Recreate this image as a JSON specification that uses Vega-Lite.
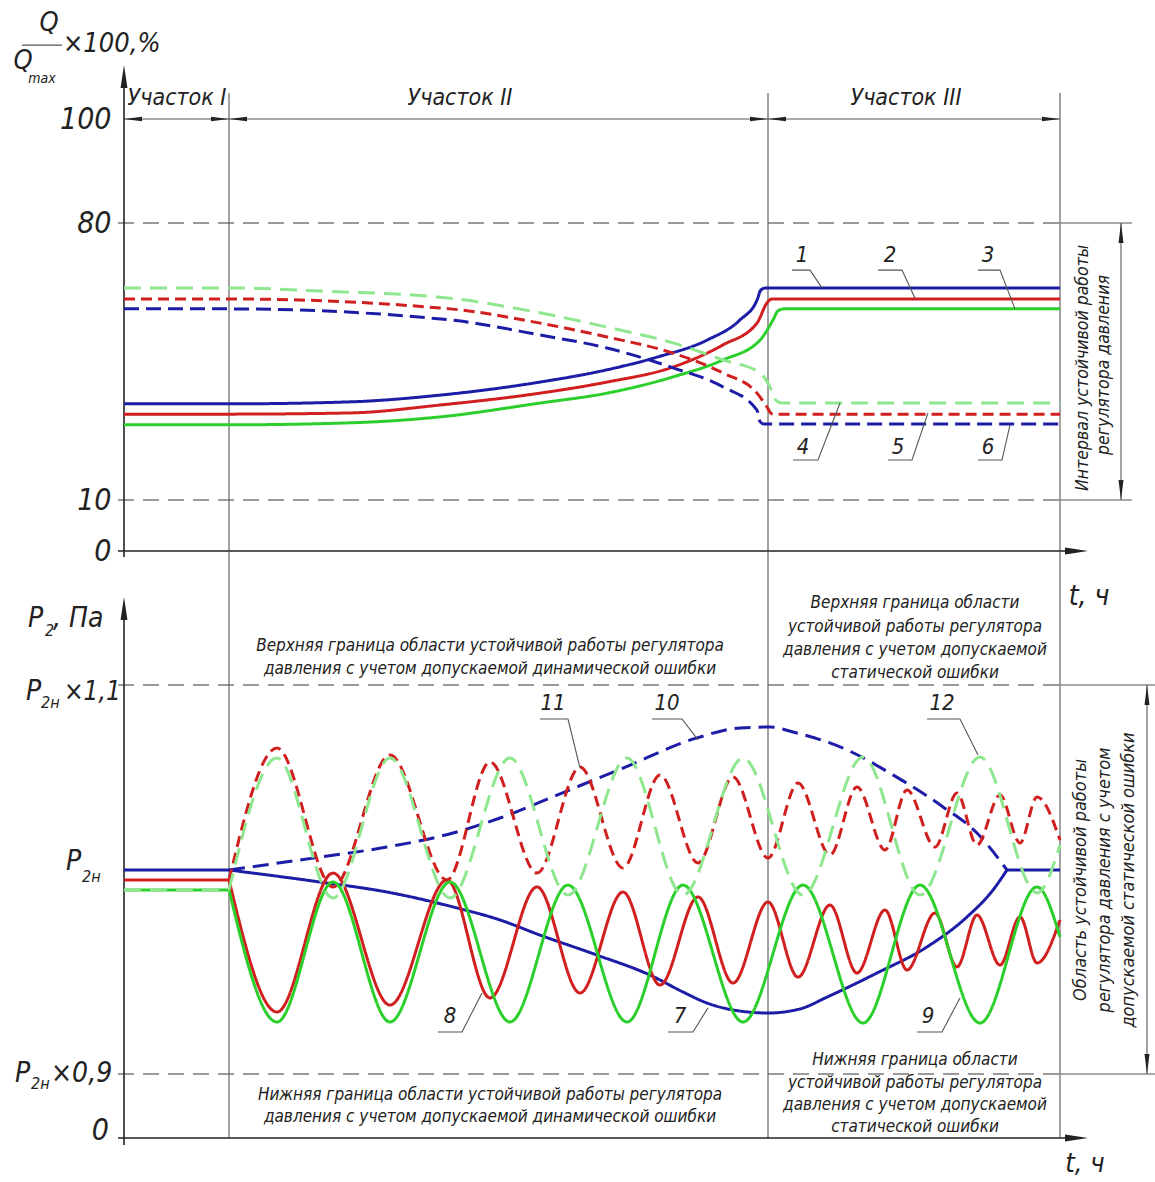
{
"$schema":"https://vega.github.io/schema/vega-lite/v6.json",
"width":1031,"height":1182,
"autosize":{"type":"none"},
"padding":{"left":124,"top":0,"right":0,"bottom":0},
"background":"white",
"config":{"view":{"stroke":null},"text":{"font":"Liberation Sans Narrow, DejaVu Sans Condensed, Liberation Sans, sans-serif","fontStyle":"italic","color":"#222"}},
"resolve":{"scale":{"y":"independent","color":"independent","strokeDash":"independent"}},
"layer":[
{"layer":[
 {"data":{"values":[{"t":-0.6,"t2":93.6,"q":80,"q2":80},{"t":-0.6,"t2":93.6,"q":10,"q2":10}]},
  "mark":{"type":"rule","color":"#7a7a7a","strokeWidth":1.3,"strokeDash":[16,9]},
  "encoding":{"x":{"field":"t","type":"quantitative","scale":{"domain":[0,100],"range":[0,1000],"nice":false,"zero":false},"axis":null},"x2":{"field":"t2"},
   "y":{"field":"q","type":"quantitative","scale":{"domain":[0,10,80,100],"range":[551,500,223,119],"nice":false,"zero":false},"axis":{"values":[0,10,80,100],"domain":false,"ticks":false,"grid":false,"title":null,"labelFontSize":30,"labelFontStyle":"italic","labelColor":"#222","labelPadding":13,"labelFont":"Liberation Sans Narrow, DejaVu Sans Condensed, Liberation Sans, sans-serif"}},"y2":{"field":"q2"}}},
 {"data":{"values":[{"t":93.6,"t2":100.8,"q":80,"q2":80},{"t":93.6,"t2":100.8,"q":10,"q2":10},{"t":99.7,"t2":99.7,"q":10,"q2":80},{"t":0,"t2":93.6,"q":100,"q2":100},{"t":10.5,"t2":10.5,"q":0,"q2":105},{"t":64.4,"t2":64.4,"q":0,"q2":105},{"t":93.6,"t2":93.6,"q":0,"q2":105},{"t":-10.2,"t2":-6.2,"q":114.2,"q2":114.2}]},
  "mark":{"type":"rule","color":"#555","strokeWidth":1.1},
  "encoding":{"x":{"field":"t","type":"quantitative","axis":null},"x2":{"field":"t2"},"y":{"field":"q","type":"quantitative"},"y2":{"field":"q2"}}},
 {"data":{"values":[{"t":0,"t2":0,"q":-1.2,"q2":108},{"t":-0.6,"t2":95,"q":0,"q2":0}]},
  "mark":{"type":"rule","color":"#222","strokeWidth":1.6},
  "encoding":{"x":{"field":"t","type":"quantitative","axis":null},"x2":{"field":"t2"},"y":{"field":"q","type":"quantitative"},"y2":{"field":"q2"}}},
 {"data":{"values":[
  {"s":"1","t":0,"q":34.3},{"s":"1","t":10.5,"q":34.3},{"s":"1","t":22.6,"q":34.8},{"s":"1","t":31.6,"q":36.5},{"s":"1","t":41.6,"q":39.8},{"s":"1","t":48.3,"q":42.9},{"s":"1","t":53.3,"q":46.1},{"s":"1","t":58.3,"q":50.4},{"s":"1","t":61.6,"q":55.5},{"s":"1","t":63.3,"q":60.5},{"s":"1","t":63.7,"q":63.1},{"s":"1","t":64.2,"q":63.6},{"s":"1","t":93.6,"q":63.6},
  {"s":"2","t":0,"q":31.7},{"s":"2","t":10.5,"q":31.7},{"s":"2","t":22.6,"q":32.0},{"s":"2","t":31.6,"q":34.0},{"s":"2","t":41.6,"q":37.0},{"s":"2","t":48.3,"q":39.8},{"s":"2","t":54.9,"q":43.6},{"s":"2","t":59.9,"q":49.2},{"s":"2","t":63.3,"q":54.7},{"s":"2","t":64.3,"q":59.8},{"s":"2","t":64.8,"q":60.8},{"s":"2","t":93.6,"q":60.8},
  {"s":"3","t":0,"q":29.0},{"s":"3","t":10.5,"q":29.0},{"s":"3","t":22.6,"q":29.5},{"s":"3","t":31.6,"q":31.0},{"s":"3","t":41.6,"q":34.5},{"s":"3","t":48.3,"q":37.0},{"s":"3","t":54.9,"q":41.1},{"s":"3","t":59.9,"q":45.4},{"s":"3","t":63.6,"q":50.4},{"s":"3","t":64.9,"q":55.5},{"s":"3","t":65.4,"q":57.8},{"s":"3","t":66.0,"q":58.3},{"s":"3","t":93.6,"q":58.3},
  {"s":"4","t":0,"q":63.6},{"s":"4","t":10.5,"q":63.6},{"s":"4","t":19.6,"q":62.8},{"s":"4","t":32.6,"q":61.0},{"s":"4","t":41.6,"q":57.3},{"s":"4","t":48.3,"q":53.7},{"s":"4","t":54.9,"q":49.7},{"s":"4","t":59.9,"q":45.4},{"s":"4","t":63.6,"q":42.1},{"s":"4","t":64.6,"q":38.6},{"s":"4","t":65.2,"q":35.2},{"s":"4","t":65.8,"q":34.5},{"s":"4","t":93.6,"q":34.5},
  {"s":"5","t":0,"q":60.8},{"s":"5","t":10.5,"q":60.8},{"s":"5","t":32.6,"q":58.3},{"s":"5","t":41.6,"q":54.7},{"s":"5","t":48.3,"q":51.2},{"s":"5","t":54.9,"q":47.1},{"s":"5","t":59.9,"q":42.1},{"s":"5","t":63.3,"q":37.0},{"s":"5","t":64.3,"q":33.5},{"s":"5","t":64.7,"q":31.9},{"s":"5","t":65.0,"q":31.7},{"s":"5","t":93.6,"q":31.7},
  {"s":"6","t":0,"q":58.3},{"s":"6","t":10.5,"q":58.3},{"s":"6","t":32.6,"q":55.5},{"s":"6","t":41.6,"q":51.7},{"s":"6","t":48.3,"q":48.4},{"s":"6","t":54.9,"q":43.4},{"s":"6","t":59.9,"q":38.6},{"s":"6","t":63.3,"q":32.7},{"s":"6","t":63.6,"q":29.8},{"s":"6","t":64.0,"q":29.2},{"s":"6","t":93.6,"q":29.2}
 ]},
  "mark":{"type":"line","interpolate":"monotone","strokeWidth":3},
  "encoding":{"x":{"field":"t","type":"quantitative","axis":null},"y":{"field":"q","type":"quantitative"},
   "color":{"field":"s","type":"nominal","scale":{"domain":["1","2","3","4","5","6"],"range":["#1c1ca6","#d11f1f","#2bcf2b","#8ee68e","#d11f1f","#1c1ca6"]},"legend":null},
   "strokeDash":{"field":"s","type":"nominal","scale":{"domain":["1","2","3","4","5","6"],"range":[[1,0],[1,0],[1,0],[17,9],[11,6],[15,7]]},"legend":null}}},
 {"data":{"values":[
  {"id":"1","t":66.8,"q":68.1},{"id":"1","t":68.6,"q":68.1},{"id":"1","t":69.8,"q":63.6},
  {"id":"2","t":75.4,"q":68.1},{"id":"2","t":77.8,"q":68.1},{"id":"2","t":79.1,"q":61.0},
  {"id":"3","t":85.4,"q":68.1},{"id":"3","t":87.6,"q":68.1},{"id":"3","t":89.1,"q":58.3},
  {"id":"4","t":66.9,"q":20.1},{"id":"4","t":69.4,"q":20.1},{"id":"4","t":71.6,"q":34.5},
  {"id":"5","t":76.4,"q":20.1},{"id":"5","t":78.8,"q":20.1},{"id":"5","t":80.4,"q":32.0},
  {"id":"6","t":85.4,"q":20.1},{"id":"6","t":87.8,"q":20.1},{"id":"6","t":88.6,"q":29.0}
 ]},
  "mark":{"type":"line","color":"#555","strokeWidth":1.1},
  "encoding":{"x":{"field":"t","type":"quantitative","axis":null},"y":{"field":"q","type":"quantitative"},"detail":{"field":"id"}}},
 {"data":{"values":[{"t":0,"q":100},{"t":10.5,"q":100},{"t":64.4,"q":100}]},
  "mark":{"type":"point","shape":"M0,0L2,-0.25L2,0.25Z","size":324,"filled":true,"color":"#222","opacity":1,"strokeWidth":0},
  "encoding":{"x":{"field":"t","type":"quantitative","axis":null},"y":{"field":"q","type":"quantitative"}}},
 {"data":{"values":[{"t":10.5,"q":100},{"t":64.4,"q":100},{"t":93.6,"q":100}]},
  "mark":{"type":"point","shape":"M0,0L-2,-0.25L-2,0.25Z","size":324,"filled":true,"color":"#222","opacity":1,"strokeWidth":0},
  "encoding":{"x":{"field":"t","type":"quantitative","axis":null},"y":{"field":"q","type":"quantitative"}}},
 {"data":{"values":[{"t":99.7,"q":80}]},
  "mark":{"type":"point","shape":"M0,0L-0.25,2L0.25,2Z","size":400,"filled":true,"color":"#222","opacity":1,"strokeWidth":0},
  "encoding":{"x":{"field":"t","type":"quantitative","axis":null},"y":{"field":"q","type":"quantitative"}}},
 {"data":{"values":[{"t":99.7,"q":10}]},
  "mark":{"type":"point","shape":"M0,0L-0.25,-2L0.25,-2Z","size":400,"filled":true,"color":"#222","opacity":1,"strokeWidth":0},
  "encoding":{"x":{"field":"t","type":"quantitative","axis":null},"y":{"field":"q","type":"quantitative"}}},
 {"data":{"values":[{"t":0,"q":110.4}]},
  "mark":{"type":"point","shape":"M0,0L-0.3,2L0.3,2Z","size":529,"filled":true,"color":"#222","opacity":1,"strokeWidth":0},
  "encoding":{"x":{"field":"t","type":"quantitative","axis":null},"y":{"field":"q","type":"quantitative"}}},
 {"data":{"values":[{"t":96.4,"q":0}]},
  "mark":{"type":"point","shape":"M0,0L-2,-0.3L-2,0.3Z","size":529,"filled":true,"color":"#222","opacity":1,"strokeWidth":0},
  "encoding":{"x":{"field":"t","type":"quantitative","axis":null},"y":{"field":"q","type":"quantitative"}}},
 {"data":{"values":[{"label":"Участок I","t":5.3,"q":104},{"label":"Участок II","t":33.6,"q":104},{"label":"Участок III","t":78.2,"q":104}]},
  "mark":{"type":"text","fontSize":23,"align":"center","baseline":"middle"},
  "encoding":{"x":{"field":"t","type":"quantitative","axis":null},"y":{"field":"q","type":"quantitative"},"text":{"field":"label"}}},
 {"data":{"values":[{"label":"1","t":67.8,"q":71.9},{"label":"2","t":76.6,"q":71.9},{"label":"3","t":86.4,"q":71.9},{"label":"4","t":67.9,"q":23.4},{"label":"5","t":77.4,"q":23.4},{"label":"6","t":86.4,"q":23.4}]},
  "mark":{"type":"text","fontSize":22,"align":"center","baseline":"middle"},
  "encoding":{"x":{"field":"t","type":"quantitative","axis":null},"y":{"field":"q","type":"quantitative"},"text":{"field":"label"}}},
 {"data":{"values":[{"label":"Q","t":-7.5,"q":118.5},{"label":"Q","t":-10.1,"q":111.2}]},
  "mark":{"type":"text","fontSize":27,"align":"center","baseline":"middle"},
  "encoding":{"x":{"field":"t","type":"quantitative","axis":null},"y":{"field":"q","type":"quantitative"},"text":{"field":"label"}}},
 {"data":{"values":[{"label":"max","t":-8.2,"q":107.7}]},
  "mark":{"type":"text","fontSize":14,"align":"center","baseline":"middle"},
  "encoding":{"x":{"field":"t","type":"quantitative","axis":null},"y":{"field":"q","type":"quantitative"},"text":{"field":"label"}}},
 {"data":{"values":[{"label":"×100,%","t":-6.1,"q":114.4}]},
  "mark":{"type":"text","fontSize":27,"align":"left","baseline":"middle"},
  "encoding":{"x":{"field":"t","type":"quantitative","axis":null},"y":{"field":"q","type":"quantitative"},"text":{"field":"label"}}},
 {"data":{"values":[{"label":"t, ч","t":96.5,"q":-9.0}]},
  "mark":{"type":"text","fontSize":28,"align":"center","baseline":"middle"},
  "encoding":{"x":{"field":"t","type":"quantitative","axis":null},"y":{"field":"q","type":"quantitative"},"text":{"field":"label"}}},
 {"data":{"values":[{"label":"Интервал устойчивой работы","t":95.9,"q":43.4},{"label":"регулятора давления","t":98.0,"q":44.1}]},
  "mark":{"type":"text","fontSize":17.5,"angle":270,"align":"center","baseline":"middle"},
  "encoding":{"x":{"field":"t","type":"quantitative","axis":null},"y":{"field":"q","type":"quantitative"},"text":{"field":"label"}}}
]},
{"layer":[
 {"data":{"values":[{"t":-0.6,"t2":93.6,"p":1.1,"p2":1.1},{"t":-0.6,"t2":93.6,"p":0.9,"p2":0.9}]},
  "mark":{"type":"rule","color":"#7a7a7a","strokeWidth":1.3,"strokeDash":[16,9]},
  "encoding":{"x":{"field":"t","type":"quantitative","axis":null},"x2":{"field":"t2"},
   "y":{"field":"p","type":"quantitative","scale":{"domain":[0,0.9,1,1.1],"range":[1138,1074,870,685],"nice":false,"zero":false},"axis":null},"y2":{"field":"p2"}}},
 {"data":{"values":[{"t":93.6,"t2":103.1,"p":1.1,"p2":1.1},{"t":93.6,"t2":103.1,"p":0.9,"p2":0.9},{"t":102.3,"t2":102.3,"p":0.9,"p2":1.1},{"t":10.5,"t2":10.5,"p":0,"p2":1.1724},{"t":64.4,"t2":64.4,"p":0,"p2":1.1724},{"t":93.6,"t2":93.6,"p":0,"p2":1.1724}]},
  "mark":{"type":"rule","color":"#555","strokeWidth":1.1},
  "encoding":{"x":{"field":"t","type":"quantitative","axis":null},"x2":{"field":"t2"},"y":{"field":"p","type":"quantitative","axis":null},"y2":{"field":"p2"}}},
 {"data":{"values":[{"t":0,"t2":0,"p":-0.098,"p2":1.14},{"t":-0.6,"t2":95,"p":0,"p2":0}]},
  "mark":{"type":"rule","color":"#222","strokeWidth":1.6},
  "encoding":{"x":{"field":"t","type":"quantitative","axis":null},"x2":{"field":"t2"},"y":{"field":"p","type":"quantitative","axis":null},"y2":{"field":"p2"}}},
 {"data":{"values":[
  {"s":"7-I","t":0,"p":1.0},{"s":"7-I","t":10.5,"p":1.0},
  {"s":"8-I","t":0,"p":0.9951},{"s":"8-I","t":10.5,"p":0.9951},
  {"s":"9-I","t":0,"p":0.9902},{"s":"9-I","t":10.5,"p":0.9902},
  {"s":"7","t":10.5,"p":1.0},{"s":"7","t":19.6,"p":0.9941},{"s":"7","t":26.3,"p":0.9892},{"s":"7","t":32.9,"p":0.9819},{"s":"7","t":37.6,"p":0.9755},{"s":"7","t":41.6,"p":0.9681},{"s":"7","t":47.3,"p":0.9583},{"s":"7","t":52.6,"p":0.9485},{"s":"7","t":55.9,"p":0.9402},{"s":"7","t":58.3,"p":0.9348},{"s":"7","t":60.9,"p":0.9314},{"s":"7","t":64.4,"p":0.9299},{"s":"7","t":67.6,"p":0.9319},{"s":"7","t":70.3,"p":0.9377},{"s":"7","t":75.3,"p":0.9495},{"s":"7","t":80.3,"p":0.9623},{"s":"7","t":84.3,"p":0.9770},{"s":"7","t":86.9,"p":0.9902},{"s":"7","t":88.3,"p":1.0},
  {"s":"7-III","t":88.3,"p":1.0},{"s":"7-III","t":93.6,"p":1.0},
  {"s":"10","t":10.5,"p":1.0},{"s":"10","t":19.6,"p":1.0070},{"s":"10","t":26.3,"p":1.0124},{"s":"10","t":32.9,"p":1.0200},{"s":"10","t":37.6,"p":1.0281},{"s":"10","t":43.3,"p":1.0405},{"s":"10","t":49.9,"p":1.0551},{"s":"10","t":57.3,"p":1.0714},{"s":"10","t":61.6,"p":1.0768},{"s":"10","t":64.6,"p":1.0773},{"s":"10","t":66.9,"p":1.0746},{"s":"10","t":71.9,"p":1.0659},{"s":"10","t":76.9,"p":1.0514},{"s":"10","t":81.9,"p":1.0341},{"s":"10","t":85.3,"p":1.0200},{"s":"10","t":88.3,"p":1.0},
  {"s":"8","t":10.5,"p":0.9951},{"s":"8","t":15.3,"p":0.9304},{"s":"8","t":20.9,"p":0.9985},{"s":"8","t":26.6,"p":0.9338},{"s":"8","t":32.3,"p":0.9951},{"s":"8","t":36.6,"p":0.9373},{"s":"8","t":41.3,"p":0.9917},{"s":"8","t":45.6,"p":0.9397},{"s":"8","t":49.9,"p":0.9892},{"s":"8","t":53.6,"p":0.9436},{"s":"8","t":57.4,"p":0.9868},{"s":"8","t":60.9,"p":0.9446},{"s":"8","t":64.4,"p":0.9843},{"s":"8","t":67.4,"p":0.9475},{"s":"8","t":70.6,"p":0.9828},{"s":"8","t":73.3,"p":0.9495},{"s":"8","t":76.1,"p":0.9804},{"s":"8","t":78.3,"p":0.9510},{"s":"8","t":81.1,"p":0.9789},{"s":"8","t":83.3,"p":0.9525},{"s":"8","t":85.3,"p":0.9779},{"s":"8","t":87.6,"p":0.9534},{"s":"8","t":89.6,"p":0.9770},{"s":"8","t":91.3,"p":0.9544},{"s":"8","t":93.6,"p":0.9755},
  {"s":"11","t":10.5,"p":0.9951},{"s":"11","t":15.3,"p":1.0659},{"s":"11","t":20.9,"p":0.9917},{"s":"11","t":26.6,"p":1.0622},{"s":"11","t":32.3,"p":0.9951},{"s":"11","t":36.6,"p":1.0584},{"s":"11","t":41.3,"p":0.9985},{"s":"11","t":45.6,"p":1.0557},{"s":"11","t":49.9,"p":1.0011},{"s":"11","t":53.6,"p":1.0514},{"s":"11","t":57.4,"p":1.0038},{"s":"11","t":60.9,"p":1.0503},{"s":"11","t":64.4,"p":1.0065},{"s":"11","t":67.4,"p":1.0470},{"s":"11","t":70.6,"p":1.0081},{"s":"11","t":73.3,"p":1.0449},{"s":"11","t":76.1,"p":1.0108},{"s":"11","t":78.3,"p":1.0432},{"s":"11","t":81.1,"p":1.0124},{"s":"11","t":83.3,"p":1.0416},{"s":"11","t":85.3,"p":1.0135},{"s":"11","t":87.6,"p":1.0405},{"s":"11","t":89.6,"p":1.0146},{"s":"11","t":91.3,"p":1.0395},{"s":"11","t":93.6,"p":1.0162},
  {"s":"9","t":10.5,"p":0.9902},{"s":"9","t":15.3,"p":0.9255},{"s":"9","t":20.9,"p":0.9941},{"s":"9","t":26.6,"p":0.9255},{"s":"9","t":32.6,"p":0.9941},{"s":"9","t":38.6,"p":0.9255},{"s":"9","t":44.4,"p":0.9926},{"s":"9","t":50.3,"p":0.9255},{"s":"9","t":55.9,"p":0.9926},{"s":"9","t":61.9,"p":0.9255},{"s":"9","t":67.9,"p":0.9926},{"s":"9","t":73.9,"p":0.9250},{"s":"9","t":79.6,"p":0.9926},{"s":"9","t":85.6,"p":0.9250},{"s":"9","t":91.3,"p":0.9917},{"s":"9","t":93.6,"p":0.9672},
  {"s":"12","t":10.5,"p":0.9902},{"s":"12","t":15.3,"p":1.0605},{"s":"12","t":20.9,"p":0.9863},{"s":"12","t":26.6,"p":1.0605},{"s":"12","t":32.6,"p":0.9863},{"s":"12","t":38.6,"p":1.0605},{"s":"12","t":44.4,"p":0.9877},{"s":"12","t":50.3,"p":1.0605},{"s":"12","t":55.9,"p":0.9877},{"s":"12","t":61.9,"p":1.0605},{"s":"12","t":67.9,"p":0.9877},{"s":"12","t":73.9,"p":1.0611},{"s":"12","t":79.6,"p":0.9877},{"s":"12","t":85.6,"p":1.0611},{"s":"12","t":91.3,"p":0.9887},{"s":"12","t":93.6,"p":1.0135}
 ]},
  "mark":{"type":"line","interpolate":"monotone","strokeWidth":3},
  "encoding":{"x":{"field":"t","type":"quantitative","axis":null},"y":{"field":"p","type":"quantitative","axis":null},
   "color":{"field":"s","type":"nominal","scale":{"domain":["7-I","8-I","9-I","7","7-III","10","8","11","9","12"],"range":["#1c1ca6","#d11f1f","#2bcf2b","#1c1ca6","#1c1ca6","#1c1ca6","#d11f1f","#d11f1f","#2bcf2b","#8ee68e"]},"legend":null},
   "strokeDash":{"field":"s","type":"nominal","scale":{"domain":["7-I","8-I","9-I","7","7-III","10","8","11","9","12"],"range":[[1,0],[1,0],[1,0],[1,0],[1,0],[16,8],[1,0],[11,6],[1,0],[17,9]]},"legend":null}}},
 {"data":{"values":[{"t":0,"p":0.9902},{"t":10.5,"p":0.9902}]},
  "mark":{"type":"line","color":"#8ee68e","strokeWidth":3,"strokeDash":[17,9]},
  "encoding":{"x":{"field":"t","type":"quantitative","axis":null},"y":{"field":"p","type":"quantitative","axis":null}}},
 {"data":{"values":[
  {"id":"7","t":54.4,"p":0.9206},{"id":"7","t":56.9,"p":0.9206},{"id":"7","t":58.4,"p":0.9324},
  {"id":"8","t":31.4,"p":0.9206},{"id":"8","t":33.8,"p":0.9206},{"id":"8","t":35.8,"p":0.9397},
  {"id":"9","t":79.3,"p":0.9206},{"id":"9","t":81.8,"p":0.9206},{"id":"9","t":83.6,"p":0.9373},
  {"id":"10","t":52.8,"p":1.0816},{"id":"10","t":55.8,"p":1.0816},{"id":"10","t":57.4,"p":1.0703},
  {"id":"11","t":41.6,"p":1.0816},{"id":"11","t":44.4,"p":1.0816},{"id":"11","t":45.6,"p":1.0551},
  {"id":"12","t":80.3,"p":1.0816},{"id":"12","t":83.6,"p":1.0816},{"id":"12","t":85.4,"p":1.0622}
 ]},
  "mark":{"type":"line","color":"#555","strokeWidth":1.1},
  "encoding":{"x":{"field":"t","type":"quantitative","axis":null},"y":{"field":"p","type":"quantitative","axis":null},"detail":{"field":"id"}}},
 {"data":{"values":[{"t":102.3,"p":1.1}]},
  "mark":{"type":"point","shape":"M0,0L-0.25,2L0.25,2Z","size":400,"filled":true,"color":"#222","opacity":1,"strokeWidth":0},
  "encoding":{"x":{"field":"t","type":"quantitative","axis":null},"y":{"field":"p","type":"quantitative","axis":null}}},
 {"data":{"values":[{"t":102.3,"p":0.9}]},
  "mark":{"type":"point","shape":"M0,0L-0.25,-2L0.25,-2Z","size":400,"filled":true,"color":"#222","opacity":1,"strokeWidth":0},
  "encoding":{"x":{"field":"t","type":"quantitative","axis":null},"y":{"field":"p","type":"quantitative","axis":null}}},
 {"data":{"values":[{"t":0,"p":1.1476}]},
  "mark":{"type":"point","shape":"M0,0L-0.3,2L0.3,2Z","size":529,"filled":true,"color":"#222","opacity":1,"strokeWidth":0},
  "encoding":{"x":{"field":"t","type":"quantitative","axis":null},"y":{"field":"p","type":"quantitative","axis":null}}},
 {"data":{"values":[{"t":96.4,"p":0}]},
  "mark":{"type":"point","shape":"M0,0L-2,-0.3L-2,0.3Z","size":529,"filled":true,"color":"#222","opacity":1,"strokeWidth":0},
  "encoding":{"x":{"field":"t","type":"quantitative","axis":null},"y":{"field":"p","type":"quantitative","axis":null}}},
 {"data":{"values":[
  {"label":"Верхняя граница области устойчивой работы регулятора","t":36.6,"p":1.1211},
  {"label":"давления с учетом допускаемой динамической ошибки","t":36.6,"p":1.1086},
  {"label":"Верхняя граница области","t":79.1,"p":1.1443},
  {"label":"устойчивой работы регулятора","t":79.1,"p":1.1314},
  {"label":"давления с учетом допускаемой","t":79.1,"p":1.1189},
  {"label":"статической ошибки","t":79.1,"p":1.1065},
  {"label":"Нижняя граница области устойчивой работы регулятора","t":36.6,"p":0.6047},
  {"label":"давления с учетом допускаемой динамической ошибки","t":36.6,"p":0.2953},
  {"label":"Нижняя граница области","t":79.1,"p":0.9069},
  {"label":"устойчивой работы регулятора","t":79.1,"p":0.7734},
  {"label":"давления с учетом допускаемой","t":79.1,"p":0.4641},
  {"label":"статической ошибки","t":79.1,"p":0.1547}
 ]},
  "mark":{"type":"text","fontSize":17,"align":"center","baseline":"middle"},
  "encoding":{"x":{"field":"t","type":"quantitative","axis":null},"y":{"field":"p","type":"quantitative","axis":null},"text":{"field":"label"}}},
 {"data":{"values":[{"label":"7","t":55.6,"p":0.9284},{"label":"8","t":32.6,"p":0.9284},{"label":"9","t":80.4,"p":0.9284},{"label":"10","t":54.3,"p":1.0903},{"label":"11","t":42.9,"p":1.0903},{"label":"12","t":81.8,"p":1.0903}]},
  "mark":{"type":"text","fontSize":22,"align":"center","baseline":"middle"},
  "encoding":{"x":{"field":"t","type":"quantitative","axis":null},"y":{"field":"p","type":"quantitative","axis":null},"text":{"field":"label"}}},
 {"data":{"values":[{"label":"t, ч","t":96.1,"p":-0.36}]},
  "mark":{"type":"text","fontSize":27,"align":"center","baseline":"middle"},
  "encoding":{"x":{"field":"t","type":"quantitative","axis":null},"y":{"field":"p","type":"quantitative","axis":null},"text":{"field":"label"}}},
 {"data":{"values":[{"label":"Область устойчивой работы","t":95.7,"p":0.9951},{"label":"регулятора давления с учетом","t":98.1,"p":0.9951},{"label":"допускаемой статической ошибки","t":100.5,"p":0.9951}]},
  "mark":{"type":"text","fontSize":18,"angle":270,"align":"center","baseline":"middle"},
  "encoding":{"x":{"field":"t","type":"quantitative","axis":null},"y":{"field":"p","type":"quantitative","axis":null},"text":{"field":"label"}}},
 {"data":{"values":[{"label":"P","t":-9.8,"p":1.0962},{"label":"P","t":-5.8,"p":1.0043},{"label":"P","t":-10.9,"p":0.9},{"label":"×0,9","t":-7.3,"p":0.9},{"label":"P","t":-9.6,"p":1.1357},{"label":", Па","t":-7.1,"p":1.1357}]},
  "mark":{"type":"text","fontSize":28,"align":"left","baseline":"middle"},
  "encoding":{"x":{"field":"t","type":"quantitative","axis":null},"y":{"field":"p","type":"quantitative","axis":null},"text":{"field":"label"}}},
 {"data":{"values":[{"label":"×1,1","t":-6.0,"p":1.0962}]},
  "mark":{"type":"text","fontSize":26,"align":"left","baseline":"middle"},
  "encoding":{"x":{"field":"t","type":"quantitative","axis":null},"y":{"field":"p","type":"quantitative","axis":null},"text":{"field":"label"}}},
 {"data":{"values":[{"label":"2н","t":-8.3,"p":1.0903},{"label":"2н","t":-4.2,"p":0.9966},{"label":"2н","t":-9.3,"p":0.7594},{"label":"2","t":-7.9,"p":1.1292}]},
  "mark":{"type":"text","fontSize":16,"align":"left","baseline":"middle"},
  "encoding":{"x":{"field":"t","type":"quantitative","axis":null},"y":{"field":"p","type":"quantitative","axis":null},"text":{"field":"label"}}},
 {"data":{"values":[{"label":"0","t":-1.5,"p":0.0984}]},
  "mark":{"type":"text","fontSize":30,"align":"right","baseline":"middle"},
  "encoding":{"x":{"field":"t","type":"quantitative","axis":null},"y":{"field":"p","type":"quantitative","axis":null},"text":{"field":"label"}}}
]}
]
}
